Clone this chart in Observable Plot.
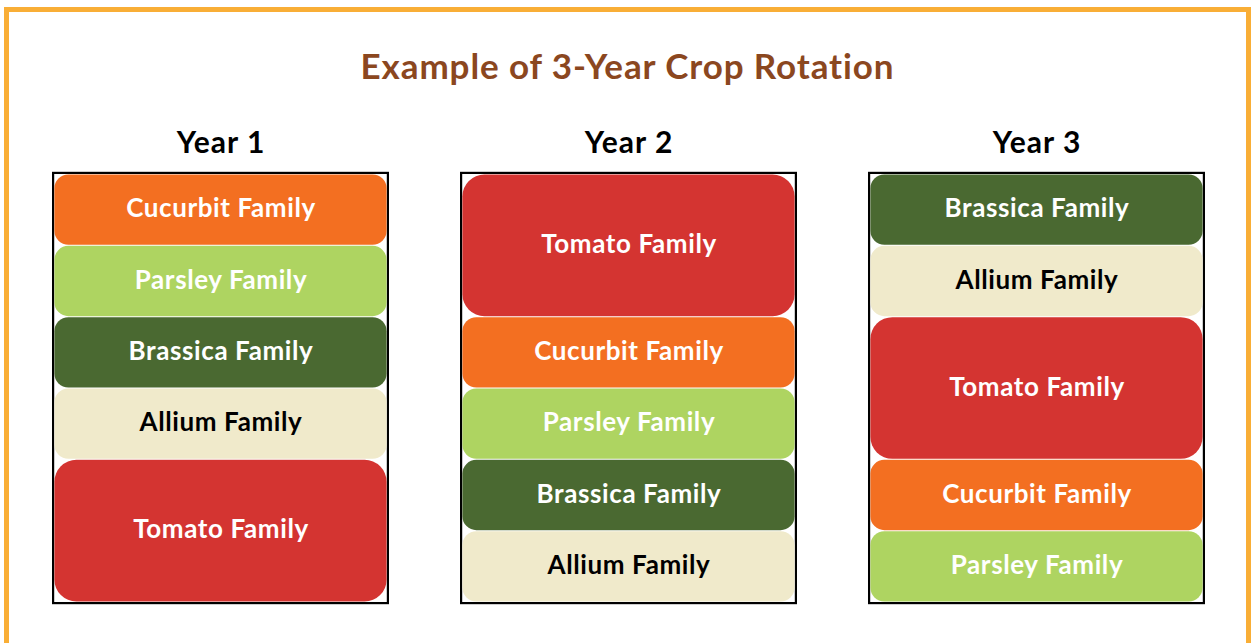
<!DOCTYPE html>
<html>
<head>
<meta charset="utf-8">
<script src="https://cdn.jsdelivr.net/npm/d3@7"></script>
<script src="https://cdn.jsdelivr.net/npm/@observablehq/plot@0.6"></script>
<style>
  body { margin: 0; background: #ffffff; width: 1251px; height: 643px; overflow: hidden; position: relative; }
  #frame { position: absolute; left: 4px; top: 7px; width: 1247px; height: 720px; border: 5px solid #F9AE36; box-sizing: border-box; }
  #title { position: absolute; left: 0; top: 45px; width: 1255px; text-align: center; font-family: Lato, sans-serif; font-weight: 700; font-size: 35px; letter-spacing: 0.9px; line-height: 40px; color: #8B471F; }
  #chart { position: absolute; left: 0; top: 0; }
  #chart g[aria-label="x-axis tick label"] text { letter-spacing: 1px; }
  #chart g[aria-label="text"] text { letter-spacing: 0.6px; }
</style>
</head>
<body>
<div id="frame"></div>
<div id="title">Example of 3-Year Crop Rotation</div>
<div id="chart"></div>
<script>
const years = ["Year 1", "Year 2", "Year 3"];
const families = ["Cucurbit Family", "Parsley Family", "Brassica Family", "Allium Family", "Tomato Family"];
const familyFill = ["#F36F21", "#AED461", "#4A6931", "#F0EACB", "#D43431"];
const familyTextColor = ["white", "white", "white", "black", "white"];
const familyUnits = [1, 1, 1, 1, 2];
const year1Order = ["Cucurbit Family", "Parsley Family", "Brassica Family", "Allium Family", "Tomato Family"];
const year2Order = ["Tomato Family", "Cucurbit Family", "Parsley Family", "Brassica Family", "Allium Family"];
const year3Order = ["Brassica Family", "Allium Family", "Tomato Family", "Cucurbit Family", "Parsley Family"];

const orders = [year1Order, year2Order, year3Order];
const rows = [];
years.forEach((year, i) => {
  let start = 0;
  for (const fam of orders[i]) {
    const k = families.indexOf(fam);
    const units = familyUnits[k];
    rows.push({year, family: fam, start, end: start + units, units, textColor: familyTextColor[k]});
    start += units;
  }
});
const totalUnits = d3.max(rows, d => d.end);

const chart = Plot.plot({
  width: 1251,
  height: 643,
  marginTop: 172,
  marginLeft: 0,
  marginRight: 0,
  marginBottom: 0,
  style: {fontFamily: "Lato, sans-serif", color: "black", background: "transparent"},
  x: {domain: years, range: [51.5, 1205.5], paddingInner: 0.174, paddingOuter: 0},
  y: {domain: [0, totalUnits], range: [174, 602], axis: null},
  color: {domain: families, range: familyFill},
  marks: [
    Plot.axisX({anchor: "top", tickSize: 0, tickPadding: 20, fontSize: 30, fontWeight: "bold", label: null}),
    Plot.barY(years, {x: d => d, y1: 0, y2: totalUnits, fill: "none", stroke: "black", strokeWidth: 2.2, insetLeft: 1.1, insetRight: 1.1, insetTop: -1.1, insetBottom: -1.1}),
    Plot.barY(rows.filter(d => d.units === 1), {x: "year", y1: "start", y2: "end", fill: "family", rx: 14, insetLeft: 2.4, insetRight: 2.4, insetTop: 0.5, insetBottom: 0.5}),
    Plot.barY(rows.filter(d => d.units > 1), {x: "year", y1: "start", y2: "end", fill: "family", rx: 22, insetLeft: 2.4, insetRight: 2.4, insetTop: 0.5, insetBottom: 0.5}),
    Plot.text(rows.filter(d => d.textColor === "white"), {x: "year", y: d => (d.start + d.end) / 2, text: "family", fill: "white", fontSize: 26, fontWeight: "bold", dy: -1}),
    Plot.text(rows.filter(d => d.textColor === "black"), {x: "year", y: d => (d.start + d.end) / 2, text: "family", fill: "black", fontSize: 26, fontWeight: "bold", dy: -1})
  ]
});
document.getElementById("chart").appendChild(chart);
</script>
</body>
</html>
